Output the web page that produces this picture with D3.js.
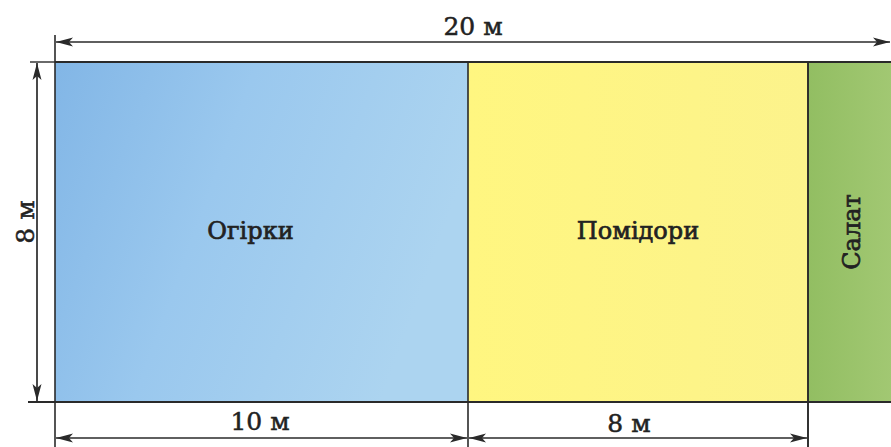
<!DOCTYPE html>
<html><head><meta charset="utf-8">
<script src="https://cdn.jsdelivr.net/npm/d3@7"></script>
<style>html,body{margin:0;padding:0;background:#fff;}svg{display:block;}</style>
</head><body>
<svg id="c" width="891" height="447"></svg>
<script>
const sections = ["Огірки", "Помідори", "Салат"];
const widthsM = [10, 8, 2];
const heightM = 8;
const totalM = 20;
const unit = "м";

const svg = d3.select("#c");
const font = "'DejaVu Serif', 'Liberation Serif', serif";
const ink = "#2a2a2a";

const starts = [];
let acc = 0;
widthsM.forEach(w => { starts.push(acc); acc += w; });

const x = d3.scaleLinear().domain([0, 10, 18, 20]).range([55, 468, 808, 893]);
const y = d3.scaleLinear().domain([0, heightM]).range([402, 62]);

const defs = svg.append("defs");
const gb = defs.append("linearGradient").attr("id", "gBlue").attr("x1", 0).attr("x2", 1).attr("y1", 0).attr("y2", 0.3);
gb.append("stop").attr("offset", 0).attr("stop-color", "#82b6e6");
gb.append("stop").attr("offset", 0.45).attr("stop-color", "#9ac8ee");
gb.append("stop").attr("offset", 1).attr("stop-color", "#acd4f0");
const gy = defs.append("linearGradient").attr("id", "gYel").attr("x1", 0).attr("x2", 1);
gy.append("stop").attr("offset", 0).attr("stop-color", "#fff680");
gy.append("stop").attr("offset", 1).attr("stop-color", "#fcf38c");
const gg = defs.append("linearGradient").attr("id", "gGrn").attr("x1", 0).attr("x2", 1);
gg.append("stop").attr("offset", 0).attr("stop-color", "#92be62");
gg.append("stop").attr("offset", 1).attr("stop-color", "#a2c873");
const fills = ["url(#gBlue)", "url(#gYel)", "url(#gGrn)"];

function marker(id, dir) {
  const m = defs.append("marker").attr("id", id)
    .attr("viewBox", "0 0 17 10").attr("markerWidth", 17).attr("markerHeight", 10)
    .attr("markerUnits", "userSpaceOnUse").attr("orient", "auto")
    .attr("refX", dir > 0 ? 17 : 0).attr("refY", 5);
  if (dir > 0) m.append("path").attr("d", "M0,0.5 L17,5 L0,9.5 L4,5 Z").attr("fill", ink);
  else m.append("path").attr("d", "M17,0.5 L0,5 L17,9.5 L13,5 Z").attr("fill", ink);
}
marker("aEnd", 1);
marker("aStart", -1);

svg.selectAll("rect.sec").data(sections).join("rect")
  .attr("class", "sec")
  .attr("x", (d, i) => x(starts[i]))
  .attr("y", y(heightM))
  .attr("width", (d, i) => x(starts[i] + widthsM[i]) - x(starts[i]))
  .attr("height", y(0) - y(heightM))
  .attr("fill", (d, i) => fills[i]);

const line = (x1, y1, x2, y2, w) => svg.append("line").attr("x1", x1).attr("y1", y1).attr("x2", x2).attr("y2", y2)
  .attr("stroke", ink).attr("stroke-width", w || 1.6);
line(x(0), y(heightM), x(totalM), y(heightM), 2);
line(28, y(0), x(totalM), y(0), 2);
line(30, y(heightM), x(0), y(heightM), 1.4);
starts.forEach((s, i) => { line(x(s), i === 0 ? 35 : y(heightM), x(s), 447, 1.6); });
line(x(totalM - widthsM[2]), y(heightM), x(totalM - widthsM[2]), 447, 1.6);

svg.selectAll("text.lab").data(sections).join("text")
  .attr("class", "lab")
  .attr("transform", (d, i) => {
    const cx = (x(starts[i]) + x(starts[i] + widthsM[i])) / 2;
    if (widthsM[i] < 4) return `translate(${cx + 9},${(y(0) + y(heightM)) / 2}) rotate(-90)`;
    return `translate(${cx - (i === 0 ? 11 : 0)},${239})`;
  })
  .attr("text-anchor", "middle")
  .attr("font-family", font).attr("font-size", 24).attr("fill", "#222")
  .attr("stroke", "#222").attr("stroke-width", 0.7)
  .text(d => d);

function dim(x1, y1, x2, y2) {
  svg.append("line").attr("x1", x1).attr("y1", y1).attr("x2", x2).attr("y2", y2)
    .attr("stroke", ink).attr("stroke-width", 1.7)
    .attr("marker-start", "url(#aStart)").attr("marker-end", "url(#aEnd)");
}
dim(x(0) + 1, 42, 890, 42);
dim(37, y(heightM) + 1, 37, y(0) - 1);
dim(x(0) + 1, 438, x(widthsM[0]) - 1, 438);
dim(x(widthsM[0]) + 1, 438, x(widthsM[0] + widthsM[1]) - 1, 438);

const dimText = (tx, ty, t, rot) => svg.append("text")
  .attr("transform", `translate(${tx},${ty})` + (rot ? " rotate(-90)" : ""))
  .attr("text-anchor", "middle").attr("font-family", font).attr("font-size", 25).attr("fill", "#222")
  .attr("stroke", "#222").attr("stroke-width", 0.5)
  .text(t);
dimText(473, 35, `${totalM} ${unit}`);
dimText(34, 222, `${heightM} ${unit}`, true);
dimText(260, 430, `${widthsM[0]} ${unit}`);
dimText(629, 432, `${widthsM[1]} ${unit}`);
</script>
</body></html>
